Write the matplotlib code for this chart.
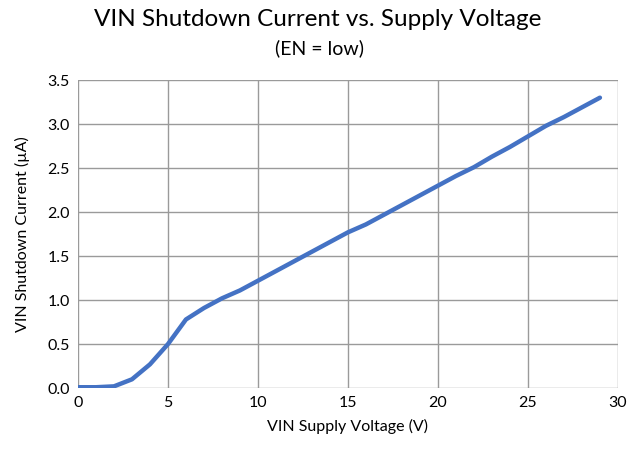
import numpy as np
import matplotlib
matplotlib.use("Agg")
import matplotlib.pyplot as plt

plt.rcParams['font.family'] = ['Lato', 'DejaVu Sans']

# supply voltage (V) and shutdown current (uA)
vin = [0, 1, 2, 3, 4, 5, 6, 7, 8, 9, 10, 11, 12, 13, 14, 15, 16, 17, 18, 19,
       20, 21, 22, 23, 24, 25, 26, 27, 28, 29]
i_sd = [0.01, 0.01, 0.02, 0.10, 0.27, 0.50, 0.78, 0.91, 1.02, 1.11, 1.22,
        1.33, 1.44, 1.55, 1.66, 1.77, 1.86, 1.97, 2.08, 2.19, 2.30, 2.41,
        2.51, 2.63, 2.74, 2.86, 2.98, 3.08, 3.19, 3.30]

fig = plt.figure(figsize=(6.39, 4.55), dpi=100)
ax = fig.add_axes([0.122, 0.147, 0.845, 0.677])

ax.plot(vin, i_sd, color='#4472C4', lw=3.2, solid_capstyle='round')

ax.set_xlim(0, 30)
ax.set_ylim(0, 3.5)
ax.set_xticks(np.arange(0, 31, 5))
ax.set_yticks(np.arange(0, 3.51, 0.5))
ax.set_yticklabels(['%.1f' % v for v in np.arange(0, 3.51, 0.5)])
ax.grid(True, color='#9a9a9a', lw=1)
ax.set_axisbelow(True)
for s in ax.spines.values():
    s.set_visible(False)
ax.tick_params(length=0, labelsize=11.5, pad=6, colors='#000000')

ax.set_xlabel('VIN Supply Voltage (V)', fontsize=11.5, labelpad=6)
ax.set_ylabel('VIN Shutdown Current (\u00b5A)', fontsize=11.5, labelpad=12)

fig.text(0.497, 0.958, 'VIN Shutdown Current vs. Supply Voltage', ha='center',
         va='center', fontsize=17.5)
fig.text(0.5, 0.895, '(EN = low)', ha='center', va='center', fontsize=14)

fig.savefig('out.png', dpi=100)
